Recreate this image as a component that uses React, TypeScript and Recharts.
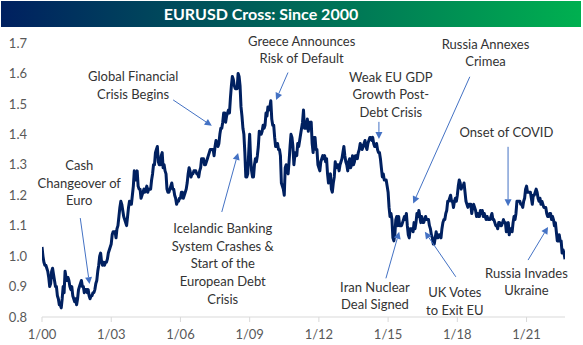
import React from "react";
import { LineChart, Line, XAxis, YAxis, ReferenceLine, ReferenceDot } from "recharts";

// Month-start EURUSD readings (Jan..Dec) per year
const y2000 = [1.03, 0.98, 0.97, 0.95, 0.90, 0.95, 0.94, 0.90, 0.87, 0.84, 0.83, 0.90];
const y2001 = [0.95, 0.92, 0.92, 0.89, 0.87, 0.85, 0.84, 0.89, 0.91, 0.90, 0.88, 0.89];
const y2002 = [0.89, 0.86, 0.87, 0.88, 0.91, 0.95, 1.00, 0.98, 0.98, 0.98, 0.99, 1.02];
const y2003 = [1.04, 1.08, 1.08, 1.09, 1.13, 1.18, 1.15, 1.12, 1.10, 1.16, 1.17, 1.20];
const y2004 = [1.28, 1.25, 1.23, 1.22, 1.20, 1.22, 1.22, 1.21, 1.22, 1.25, 1.30, 1.34];
const y2005 = [1.36, 1.30, 1.33, 1.29, 1.28, 1.22, 1.21, 1.23, 1.22, 1.20, 1.17, 1.18];
const y2006 = [1.19, 1.21, 1.20, 1.22, 1.27, 1.28, 1.27, 1.28, 1.28, 1.27, 1.28, 1.32];
const y2007 = [1.32, 1.30, 1.32, 1.34, 1.35, 1.35, 1.36, 1.37, 1.37, 1.42, 1.44, 1.47];
const y2008 = [1.46, 1.48, 1.52, 1.59, 1.56, 1.55, 1.60, 1.56, 1.46, 1.40, 1.26, 1.27];
const y2009 = [1.40, 1.28, 1.26, 1.32, 1.33, 1.41, 1.40, 1.43, 1.43, 1.46, 1.48, 1.51];
const y2010 = [1.43, 1.39, 1.36, 1.35, 1.33, 1.23, 1.20, 1.30, 1.27, 1.36, 1.39, 1.30];
const y2011 = [1.34, 1.37, 1.38, 1.42, 1.48, 1.44, 1.45, 1.44, 1.44, 1.34, 1.39, 1.35];
const y2012 = [1.29, 1.31, 1.33, 1.33, 1.32, 1.24, 1.27, 1.21, 1.26, 1.29, 1.30, 1.30];
const y2013 = [1.32, 1.36, 1.31, 1.28, 1.32, 1.30, 1.30, 1.33, 1.32, 1.35, 1.36, 1.36];
const y2014 = [1.38, 1.35, 1.38, 1.39, 1.39, 1.36, 1.37, 1.34, 1.32, 1.26, 1.25, 1.25];
const y2015 = [1.21, 1.13, 1.12, 1.05, 1.12, 1.10, 1.10, 1.10, 1.12, 1.12, 1.10, 1.06];
const y2016 = [1.09, 1.08, 1.09, 1.14, 1.15, 1.11, 1.11, 1.12, 1.12, 1.12, 1.09, 1.06];
const y2017 = [1.04, 1.08, 1.06, 1.07, 1.09, 1.12, 1.14, 1.18, 1.19, 1.18, 1.16, 1.19];
const y2018 = [1.20, 1.25, 1.22, 1.23, 1.21, 1.17, 1.17, 1.17, 1.16, 1.16, 1.13, 1.13];
const y2019 = [1.15, 1.15, 1.14, 1.12, 1.12, 1.12, 1.14, 1.12, 1.10, 1.09, 1.11, 1.10];
const y2020 = [1.12, 1.11, 1.10, 1.07, 1.09, 1.11, 1.12, 1.18, 1.18, 1.17, 1.16, 1.19];
const y2021 = [1.23, 1.21, 1.21, 1.17, 1.20, 1.22, 1.19, 1.19, 1.18, 1.16, 1.16, 1.13];
const y2022 = [1.14, 1.12, 1.12, 1.11, 1.05, 1.07, 1.05, 1.02, 0.99];

// Mid-month EURUSD readings (Jan..Dec) per year
const m2000 = [1.00, 0.97, 0.96, 0.93, 0.91, 0.96, 0.92, 0.90, 0.86, 0.84, 0.86, 0.88];
const m2001 = [0.93, 0.93, 0.90, 0.90, 0.86, 0.86, 0.86, 0.90, 0.92, 0.90, 0.89, 0.88];
const m2002 = [0.87, 0.87, 0.88, 0.89, 0.92, 0.97, 1.01, 0.97, 0.97, 0.98, 1.01, 1.03];
const m2003 = [1.07, 1.08, 1.06, 1.10, 1.16, 1.17, 1.13, 1.11, 1.13, 1.18, 1.17, 1.23];
const m2004 = [1.25, 1.28, 1.22, 1.19, 1.21, 1.21, 1.23, 1.22, 1.22, 1.27, 1.30, 1.35];
const m2005 = [1.31, 1.30, 1.34, 1.30, 1.27, 1.21, 1.22, 1.24, 1.22, 1.19, 1.18, 1.19];
const m2006 = [1.21, 1.19, 1.21, 1.24, 1.29, 1.26, 1.27, 1.28, 1.27, 1.26, 1.29, 1.32];
const m2007 = [1.30, 1.31, 1.33, 1.35, 1.35, 1.33, 1.38, 1.36, 1.40, 1.42, 1.47, 1.44];
const m2008 = [1.47, 1.47, 1.56, 1.58, 1.55, 1.55, 1.59, 1.49, 1.42, 1.34, 1.26, 1.34];
const m2009 = [1.32, 1.26, 1.30, 1.31, 1.36, 1.40, 1.41, 1.42, 1.47, 1.49, 1.49, 1.45];
const m2010 = [1.43, 1.36, 1.37, 1.35, 1.24, 1.22, 1.29, 1.28, 1.31, 1.40, 1.36, 1.33];
const m2011 = [1.33, 1.36, 1.40, 1.44, 1.42, 1.42, 1.41, 1.43, 1.37, 1.39, 1.35, 1.30];
const m2012 = [1.28, 1.32, 1.32, 1.31, 1.27, 1.26, 1.22, 1.24, 1.31, 1.30, 1.28, 1.31];
const m2013 = [1.34, 1.33, 1.30, 1.31, 1.29, 1.33, 1.31, 1.33, 1.34, 1.37, 1.35, 1.37];
const m2014 = [1.36, 1.37, 1.39, 1.38, 1.37, 1.36, 1.35, 1.34, 1.29, 1.27, 1.25, 1.23];
const m2015 = [1.16, 1.14, 1.06, 1.07, 1.13, 1.13, 1.10, 1.11, 1.13, 1.14, 1.07, 1.09];
const m2016 = [1.09, 1.11, 1.11, 1.13, 1.13, 1.13, 1.11, 1.13, 1.12, 1.10, 1.07, 1.04];
const m2017 = [1.06, 1.06, 1.07, 1.06, 1.11, 1.12, 1.15, 1.18, 1.20, 1.18, 1.18, 1.18];
const m2018 = [1.23, 1.24, 1.23, 1.24, 1.18, 1.16, 1.17, 1.14, 1.17, 1.15, 1.14, 1.13];
const m2019 = [1.14, 1.13, 1.13, 1.13, 1.12, 1.13, 1.12, 1.11, 1.10, 1.11, 1.10, 1.11];
const m2020 = [1.11, 1.08, 1.11, 1.09, 1.08, 1.13, 1.14, 1.18, 1.18, 1.17, 1.18, 1.22];
const m2021 = [1.21, 1.21, 1.19, 1.20, 1.21, 1.21, 1.18, 1.17, 1.17, 1.16, 1.14, 1.13];
const m2022 = [1.14, 1.13, 1.10, 1.08, 1.05, 1.05, 1.01, 1.01];

const starts = [y2000, y2001, y2002, y2003, y2004, y2005, y2006, y2007, y2008, y2009, y2010, y2011,
  y2012, y2013, y2014, y2015, y2016, y2017, y2018, y2019, y2020, y2021, y2022];
const mids = [m2000, m2001, m2002, m2003, m2004, m2005, m2006, m2007, m2008, m2009, m2010, m2011,
  m2012, m2013, m2014, m2015, m2016, m2017, m2018, m2019, m2020, m2021, m2022];

const xTicks = [0, 3, 6, 9, 12, 15, 18, 21];
const yTicks = [0.8, 0.9, 1.0, 1.1, 1.2, 1.3, 1.4, 1.5, 1.6, 1.7];

// Annotations: label anchor (t in years since 1/00, value) and arrow from -> to
const annotations = [
  { lines: ["Cash", "Changeover of", "Euro"], at: [1.615, 1.299], from: [1.658, 1.125], to: [2.06, 0.908] },
  { lines: ["Global Financial", "Crisis Begins"], at: [3.952, 1.590], from: [5.684, 1.513], to: [7.359, 1.428] },
  { lines: ["Icelandic Banking", "System Crashes &", "Start of the", "European Debt", "Crisis"], at: [7.835, 1.092], from: [7.792, 1.145], to: [8.498, 1.339] },
  { lines: ["Greece Announces", "Risk of Default"], at: [11.255, 1.708], from: [10.662, 1.603], to: [10.143, 1.513] },
  { lines: ["Weak EU GDP", "Growth Post-", "Debt Crisis"], at: [15.121, 1.589], from: [14.602, 1.441], to: [14.602, 1.385] },
  { lines: ["Russia Annexes", "Crimea"], at: [19.221, 1.698], from: [18.541, 1.589], to: [16.087, 1.173] },
  { lines: ["Onset of COVID"], at: [20.13, 1.409], from: [20.199, 1.359], to: [20.199, 1.164] },
  { lines: ["Iran Nuclear", "Deal Signed"], at: [14.429, 0.899], from: [14.905, 0.927], to: [15.481, 1.080] },
  { lines: ["UK Votes", "to Exit EU"], at: [17.892, 0.882], from: [17.935, 0.932], to: [16.593, 1.080] },
  { lines: ["Russia Invades", "Ukraine"], at: [20.996, 0.945], from: [21.065, 0.987], to: [21.931, 1.096] },
];

const data: { t: number; v: number }[] = [];
starts.forEach((yr, yi) => {
  yr.forEach((v, mi) => {
    const base = yi + mi / 12;
    data.push({ t: base, v });
    const m = mids[yi][mi];
    if (m !== undefined) data.push({ t: base + 1 / 24, v: m });
  });
});

const FONT = "Lato, 'Open Sans', sans-serif";
const ARROW = "#4472C4";

const Arrow = (props: any) => {
  const { x1, y1, x2, y2 } = props;
  const dx = x2 - x1;
  const dy = y2 - y1;
  const len = Math.sqrt(dx * dx + dy * dy) || 1;
  const ux = dx / len;
  const uy = dy / len;
  const hl = 7;
  const hw = 3.5;
  const bx = x2 - ux * hl;
  const by = y2 - uy * hl;
  const pts = `${x2},${y2} ${bx - uy * hw},${by + ux * hw} ${bx + uy * hw},${by - ux * hw}`;
  return (
    <g>
      <line x1={x1} y1={y1} x2={bx} y2={by} stroke={ARROW} strokeWidth={1} />
      <polygon points={pts} fill={ARROW} />
    </g>
  );
};

const makeLabel = (lines: string[]) => (props: any) => {
  const { cx, cy } = props;
  return (
    <text x={cx} y={cy} textAnchor="middle" fontFamily={FONT} fontSize={13} fill="#333333">
      {lines.map((l, i) => (
        <tspan key={i} x={cx} y={cy + i * 17.6} dominantBaseline="central">
          {l}
        </tspan>
      ))}
    </text>
  );
};

export default function App() {
  return (
    <div style={{ position: "absolute", left: 0, top: 0, width: 583, height: 345, background: "#fff" }}>
      <div
        style={{
          position: "absolute",
          left: 1,
          top: 1,
          width: 580,
          height: 26,
          background: "linear-gradient(to right, #002060, #00B050)",
          color: "#fff",
          fontFamily: FONT,
          fontWeight: 700,
          fontSize: 16,
          lineHeight: "26px",
          textAlign: "center",
          paddingRight: 60,
          boxSizing: "border-box",
        }}
      >
        EURUSD Cross: Since 2000
      </div>
      <LineChart width={583} height={345} data={data} margin={{ top: 43, right: 18, bottom: 0, left: 0 }}>
        <XAxis
          dataKey="t"
          type="number"
          domain={[0, 272 / 12]}
          ticks={xTicks}
          tickFormatter={(t: number) => "1/" + String(t).padStart(2, "0")}
          stroke="#D9D9D9"
          tickSize={5}
          tickMargin={8}
          height={28}
          tick={{ fill: "#595959", fontSize: 13, fontFamily: FONT }}
          allowDataOverflow
        />
        <YAxis
          type="number"
          domain={[0.8, 1.7]}
          ticks={yTicks}
          tickFormatter={(v: number) => v.toFixed(1)}
          axisLine={false}
          tickLine={false}
          tickMargin={9}
          width={42}
          tick={{ fill: "#595959", fontSize: 13, fontFamily: FONT }}
          allowDataOverflow
        />
        <Line
          dataKey="v"
          type="linear"
          stroke="#002060"
          strokeWidth={3}
          strokeLinejoin="round"
          dot={false}
          isAnimationActive={false}
        />
        {annotations.map((a, i) => (
          <ReferenceLine
            key={"a" + i}
            segment={[{ x: a.from[0], y: a.from[1] }, { x: a.to[0], y: a.to[1] }]}
            ifOverflow="visible"
            shape={Arrow}
          />
        ))}
        {annotations.map((a, i) => (
          <ReferenceDot
            key={"l" + i}
            x={a.at[0]}
            y={a.at[1]}
            ifOverflow="visible"
            shape={makeLabel(a.lines)}
          />
        ))}
      </LineChart>
    </div>
  );
}
